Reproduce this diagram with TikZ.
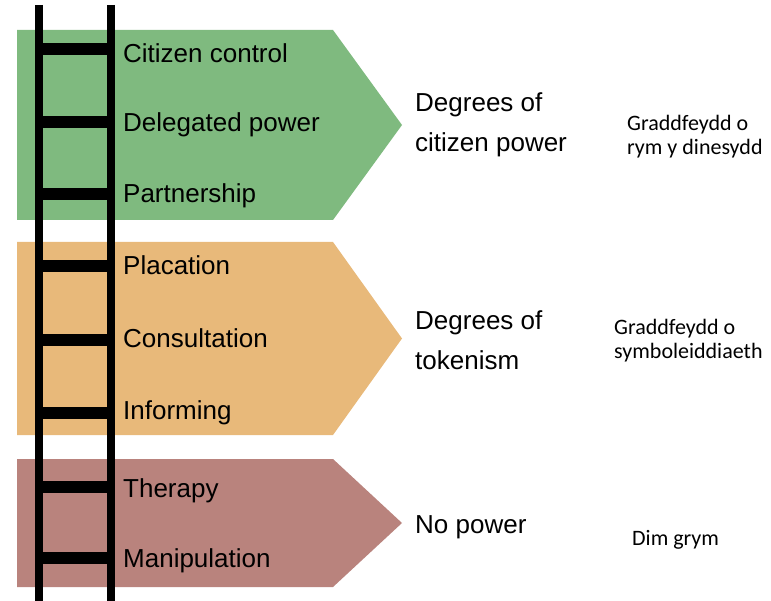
\documentclass[tikz,border=0pt]{standalone}
\usepackage{fontspec}
\setmainfont{Liberation Sans}
\newfontfamily\welshfont{Carlito}
\usetikzlibrary{positioning}
\usetikzlibrary{calc}

\definecolor{powergreen}{RGB}{127,186,127}
\definecolor{tokenorange}{RGB}{232,185,122}
\definecolor{nopowerred}{RGB}{185,131,125}

\begin{document}
\begin{tikzpicture}[x=1pt, y=-1pt,
    rail/.style={line width=8pt},
    rung/.style={line width=12pt},
    rungtext/.style={anchor=base west, inner sep=0pt, font=\fontsize{26}{28}\selectfont},
    degreetext/.style={anchor=west, inner sep=0pt, align=left, font=\fontsize{26}{40}\selectfont},
    welshtext/.style={anchor=west, inner sep=0pt, align=left, font=\welshfont\fontsize{22}{24}\selectfont}]
  \useasboundingbox (0,0) rectangle (771,601);
  % Set the ends of the arrow bands
  \def\bandleft{17}
  \def\bandright{333}
  \def\bandtip{402}

  % Draw the three bands: colour / top / bottom
  \foreach \col/\top/\bot in {powergreen/30/220, tokenorange/242/435, nopowerred/459/587} {
    \fill[\col] (\bandleft,\top) -- (\bandright,\top) -- (\bandtip,{(\top+\bot)/2})
      -- (\bandright,\bot) -- (\bandleft,\bot) -- cycle;
  }

  % Rungs of the ladder
  \foreach \y in {49,122,194,266,340,413,487,558} {
    \draw[rung] (39,\y) -- (111,\y);
  }
  \draw[rail] (39,5) -- (39,601);
  \draw[rail] (111,5) -- (111,601);

  % Steps of the ladder, top to bottom
  \node[rungtext] (control) at (123,63) {Citizen control};
  \node[rungtext] (delegated) at (123,132) {Delegated power};
  \node[rungtext] (partnership) at (123,203) {Partnership};
  \node[rungtext] (placation) at (123,275) {Placation};
  \node[rungtext] (consultation) at (123,348) {Consultation};
  \node[rungtext] (informing) at (123,420) {Informing};
  \node[rungtext] (therapy) at (123,497) {Therapy};
  \node[rungtext] (manipulation) at (123,567) {Manipulation};

  % Degrees, in English and in Welsh
  \node[degreetext] (citizenpower) at (415,125) {Degrees of\\citizen power};
  \node[degreetext] (tokenism) at (415,340) {Degrees of\\tokenism};
  \node[rungtext] (nopower) at (415,533) {No power};

  \node[welshtext] (grym) at (627,137) {Graddfeydd o\\rym y dinesydd};
  \node[welshtext] (symbol) at (614,341) {Graddfeydd o\\symboleiddiaeth};
  \node[welshtext, anchor=base west] (dimgrym) at (632,545) {Dim grym};
\end{tikzpicture}
\end{document}
